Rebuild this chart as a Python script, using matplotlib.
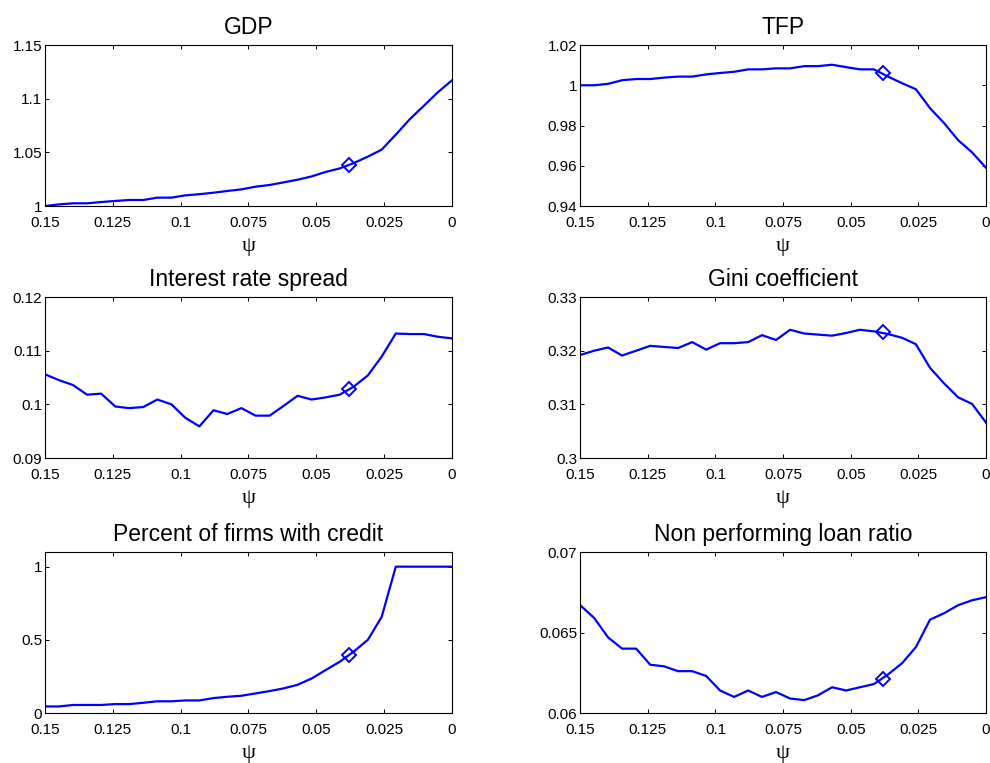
import matplotlib
matplotlib.use("Agg")
import matplotlib.pyplot as plt


# -------------------------------------------------
# DATA
# -------------------------------------------------

psi = [0.15, 0.1448, 0.1397, 0.1345, 0.1293, 0.1241, 0.1190, 0.1138, 0.1086, 0.1034,
       0.0983, 0.0931, 0.0879, 0.0828, 0.0776, 0.0724, 0.0672, 0.0621, 0.0569, 0.0517,
       0.0466, 0.0414, 0.0362, 0.0310, 0.0259, 0.0207, 0.0155, 0.0103, 0.0052, 0.0]

gdp = [1.0, 1.0015, 1.0025, 1.0025, 1.0037, 1.0047, 1.0056, 1.0056, 1.0078, 1.0078,
       1.0099, 1.011, 1.0124, 1.014, 1.0155, 1.018, 1.0196, 1.022, 1.0245, 1.0276,
       1.0317, 1.035, 1.040, 1.046, 1.0525, 1.0665, 1.081, 1.0935, 1.106, 1.117]

tfp = [1.0, 1.0, 1.0007, 1.0025, 1.0031, 1.0031, 1.0038, 1.0043, 1.0043, 1.0054,
       1.0061, 1.0067, 1.0079, 1.0079, 1.0084, 1.0084, 1.0095, 1.0095, 1.0102, 1.009,
       1.0079, 1.0079, 1.0043, 1.001, 0.998, 0.9886, 0.9812, 0.9727, 0.9667, 0.959]

spread = [0.1056, 0.1045, 0.1036, 0.1018, 0.102, 0.0996, 0.0993, 0.0995, 0.1009, 0.1,
          0.0975, 0.0959, 0.0989, 0.0982, 0.0993, 0.0979, 0.0979, 0.0997, 0.1016, 0.1009,
          0.1013, 0.1018, 0.1033, 0.1054, 0.1089, 0.1132, 0.1131, 0.1131, 0.1126, 0.1123]

gini = [0.3192, 0.32, 0.3206, 0.3191, 0.32, 0.3209, 0.3207, 0.3205, 0.3216, 0.3202,
        0.3214, 0.3214, 0.3216, 0.3229, 0.322, 0.3239, 0.3232, 0.323, 0.3228, 0.3233,
        0.3239, 0.3236, 0.3231, 0.3224, 0.3212, 0.3168, 0.3139, 0.3113, 0.3101, 0.3066]

credit = [0.045, 0.045, 0.055, 0.055, 0.055, 0.061, 0.061, 0.07, 0.08, 0.08,
          0.086, 0.086, 0.102, 0.111, 0.118, 0.134, 0.15, 0.168, 0.193, 0.236,
          0.293, 0.35, 0.42, 0.5, 0.657, 1.0, 1.0, 1.0, 1.0, 1.0]

npl = [0.0667, 0.0659, 0.0647, 0.064, 0.064, 0.063, 0.0629, 0.0626, 0.0626, 0.0623,
       0.0614, 0.061, 0.0614, 0.061, 0.0613, 0.0609, 0.0608, 0.0611, 0.0616, 0.0614,
       0.0616, 0.0618, 0.0624, 0.0631, 0.0641, 0.0658, 0.0662, 0.0667, 0.067, 0.0672]

# calibrated point (diamond)
psi_mark = 0.038
marks = [1.0379, 1.0059, 0.1029, 0.3234, 0.398, 0.0621]

titles = ["GDP", "TFP", "Interest rate spread", "Gini coefficient",
          "Percent of firms with credit", "Non performing loan ratio"]
series = [gdp, tfp, spread, gini, credit, npl]

x_ticks = [0.15, 0.125, 0.1, 0.075, 0.05, 0.025, 0]
x_labels = ["0.15", "0.125", "0.1", "0.075", "0.05", "0.025", "0"]

y_lims = [(1.0, 1.15), (0.94, 1.02), (0.09, 0.12), (0.30, 0.33), (0.0, 1.1), (0.06, 0.07)]
y_ticks = [[1.0, 1.05, 1.1, 1.15],
           [0.94, 0.96, 0.98, 1.0, 1.02],
           [0.09, 0.1, 0.11, 0.12],
           [0.30, 0.31, 0.32, 0.33],
           [0, 0.5, 1],
           [0.06, 0.065, 0.07]]
y_labels = [["1", "1.05", "1.1", "1.15"],
            ["0.94", "0.96", "0.98", "1", "1.02"],
            ["0.09", "0.1", "0.11", "0.12"],
            ["0.3", "0.31", "0.32", "0.33"],
            ["0", "0.5", "1"],
            ["0.06", "0.065", "0.07"]]


# -------------------------------------------------
# FIGURE
# -------------------------------------------------

plt.rcParams["font.family"] = ["Liberation Sans", "DejaVu Sans"]

fig = plt.figure(figsize=(9.9, 7.63), dpi=100)

lefts = [0.0455, 0.586]
bottoms = [0.730, 0.3997, 0.0655]
w = [0.411, 0.410]
h = 0.211

for i in range(6):
    row, col = i // 2, i % 2
    ax = fig.add_axes([lefts[col], bottoms[row], w[col], h])

    ax.plot(psi, series[i], color="blue", lw=1.6)
    ax.plot([psi_mark], [marks[i]], marker="D", ms=7, mfc="none", mec="blue",
            mew=1.4, ls="none")

    ax.set_xlim(0.15, 0)
    ax.set_ylim(*y_lims[i])
    ax.set_xticks(x_ticks)
    ax.set_xticklabels(x_labels)
    ax.set_yticks(y_ticks[i])
    ax.set_yticklabels(y_labels[i])

    ax.tick_params(direction="in", top=True, right=True, length=3, width=0.7,
                   labelsize=11, colors="black")
    ax.tick_params(axis="x", pad=7.5)
    ax.tick_params(axis="y", pad=2)
    for sp in ax.spines.values():
        sp.set_linewidth(0.8)

    ax.set_title(titles[i], fontsize=16.5, pad=8)
    ax.set_xlabel("\u03c8", fontsize=16, labelpad=5,
                  family=["Liberation Serif", "DejaVu Serif"])

fig.savefig("out.png", dpi=100)
plt.close(fig)
